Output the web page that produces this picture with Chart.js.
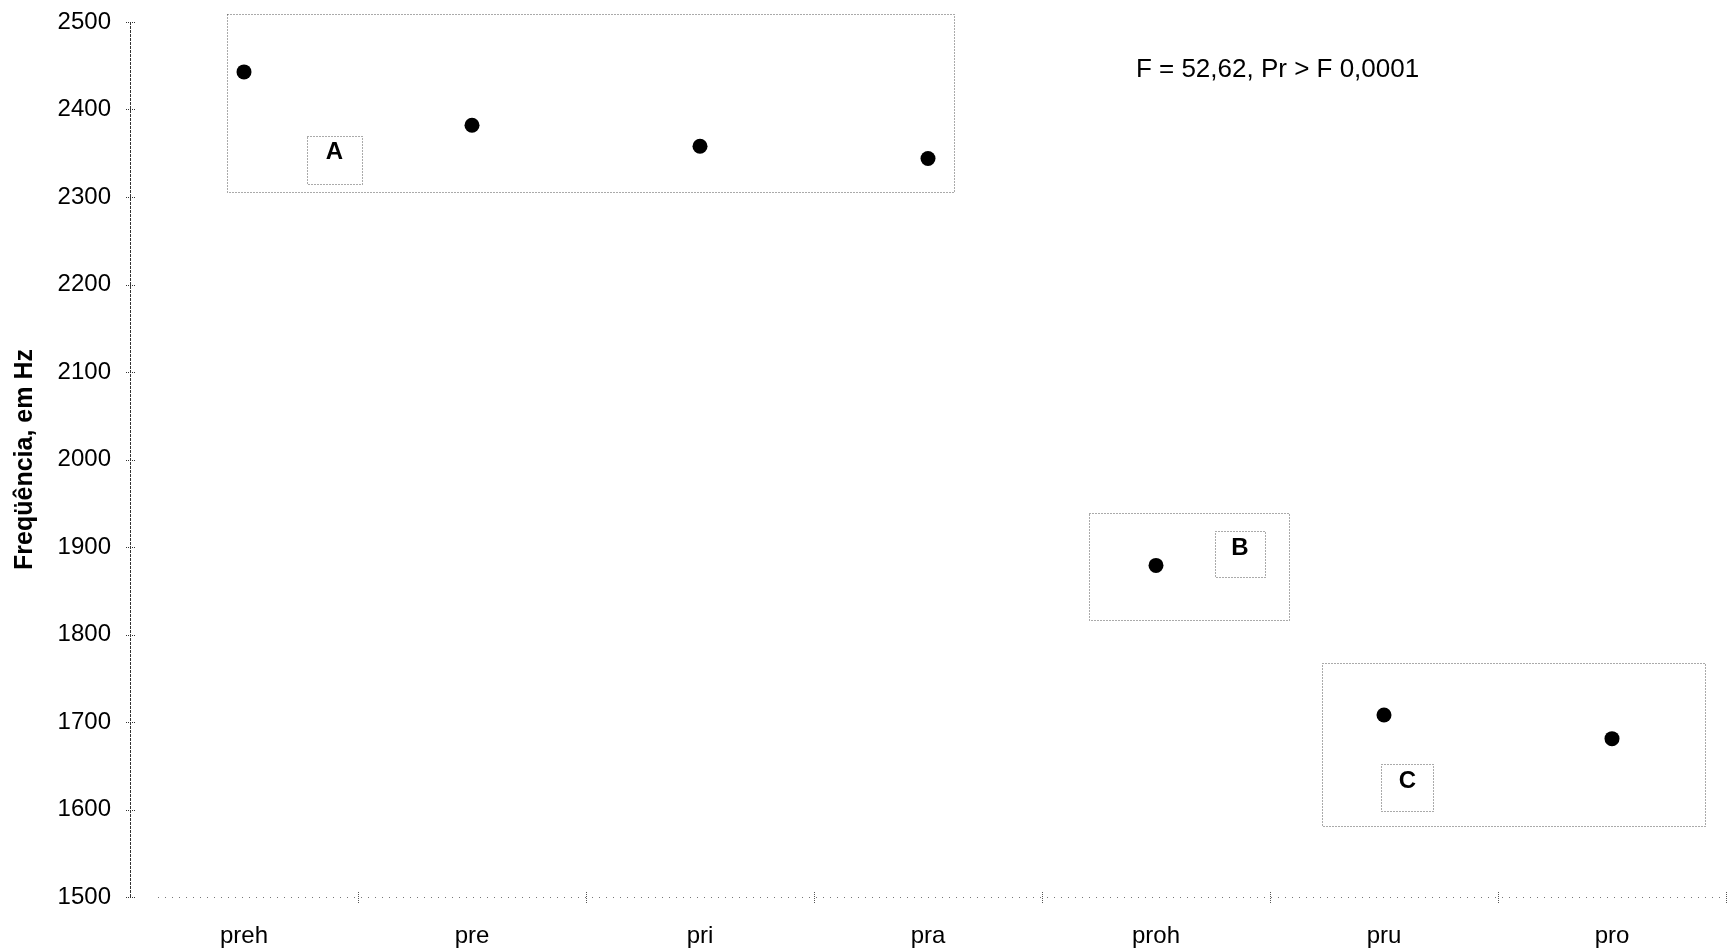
<!DOCTYPE html>
<html>
<head>
<meta charset="utf-8">
<title>Freqüência por contexto</title>
<script src="https://cdn.jsdelivr.net/npm/chart.js@4/dist/chart.umd.min.js"></script>
<style>
  html, body { margin: 0; padding: 0; background: #fff; }
  #wrap { width: 1735px; height: 952px; }
</style>
</head>
<body>
<div id="wrap"><canvas id="chart" width="1735" height="952"></canvas></div>
<script>
// Contexts on the horizontal axis
const categories = ['preh', 'pre', 'pri', 'pra', 'proh', 'pru', 'pro'];
// Mean frequency per context, in Hz
const frequencyHz = [2443, 2382, 2358, 2344, 1879, 1708, 1681];
// Vertical axis labels
const yTickLabels = ['1500', '1600', '1700', '1800', '1900', '2000', '2100', '2200', '2300', '2400', '2500'];
// Group letters from the post-hoc test
const groupLetters = ['A', 'B', 'C'];
const statText = 'F = 52,62, Pr > F 0,0001';

// Group boxes in axis units: x in category index, y in Hz
const groupBoxes = [
  { x0: -0.075, x1: 3.114, y0: 2306, y1: 2509 },
  { x0: 3.708, x1: 4.586, y0: 1817, y1: 1939 },
  { x0: 4.728, x1: 6.410, y0: 1581, y1: 1767 }
];
const letterBoxes = [
  { x0: 0.276, x1: 0.518, y0: 2315, y1: 2370 },
  { x0: 4.259, x1: 4.478, y0: 1866, y1: 1918 },
  { x0: 4.989, x1: 5.217, y0: 1598, y1: 1652 }
];
const statAt = { x: 4.533, y: 2445 };

const FONT = "'Liberation Sans', Arial, Helvetica, sans-serif";
Chart.defaults.font.family = FONT;
Chart.defaults.color = '#000';

function dashedRect(ctx, l, t, r, b) {
  ctx.beginPath();
  ctx.rect(Math.round(l) + 0.5, Math.round(t) + 0.5, Math.round(r - l), Math.round(b - t));
  ctx.stroke();
}

const frame = {
  id: 'frame',
  beforeDatasetsDraw(chart) {
    const { ctx, chartArea, scales: { x, y } } = chart;
    ctx.save();

    // y axis line with crossing ticks
    ctx.strokeStyle = '#333';
    ctx.lineWidth = 1;
    ctx.setLineDash([3, 1]);
    ctx.beginPath();
    ctx.moveTo(chartArea.left + 0.5, chartArea.top);
    ctx.lineTo(chartArea.left + 0.5, chartArea.bottom);
    ctx.stroke();
    ctx.setLineDash([1, 1]);
    yTickLabels.forEach(t => {
      const py = Math.round(y.getPixelForValue(Number(t))) + 0.5;
      ctx.beginPath();
      ctx.moveTo(chartArea.left - 4, py);
      ctx.lineTo(chartArea.left + 5, py);
      ctx.stroke();
    });

    // x axis: sparse dotted line, ticks between categories
    ctx.strokeStyle = '#777';
    ctx.setLineDash([1, 6]);
    ctx.beginPath();
    ctx.moveTo(chartArea.left + 28, chartArea.bottom + 0.5);
    ctx.lineTo(chartArea.right, chartArea.bottom + 0.5);
    ctx.stroke();
    ctx.strokeStyle = '#555';
    ctx.setLineDash([1, 1]);
    for (let i = 0; i < categories.length; i++) {
      const px = Math.round(x.getPixelForValue(i + 0.5)) + 0.5;
      ctx.beginPath();
      ctx.moveTo(px, chartArea.bottom - 5);
      ctx.lineTo(px, chartArea.bottom + 6);
      ctx.stroke();
    }

    // group boxes
    ctx.strokeStyle = '#555';
    ctx.setLineDash([1, 2]);
    groupBoxes.forEach(g => {
      dashedRect(ctx, x.getPixelForValue(g.x0), y.getPixelForValue(g.y1),
                 x.getPixelForValue(g.x1), y.getPixelForValue(g.y0));
    });

    // letter boxes and letters
    ctx.font = 'bold 24px ' + FONT;
    ctx.textAlign = 'center';
    ctx.textBaseline = 'middle';
    letterBoxes.forEach((g, i) => {
      const l = x.getPixelForValue(g.x0), r = x.getPixelForValue(g.x1);
      const t = y.getPixelForValue(g.y1), b = y.getPixelForValue(g.y0);
      ctx.strokeStyle = '#555';
      dashedRect(ctx, l, t, r, b);
      ctx.fillStyle = '#000';
      ctx.fillText(groupLetters[i], (l + r) / 2, t + 17);
    });

    // statistic
    ctx.font = '26px ' + FONT;
    ctx.fillText(statText, x.getPixelForValue(statAt.x), y.getPixelForValue(statAt.y));
    ctx.restore();
  }
};

new Chart(document.getElementById('chart'), {
  type: 'line',
  data: {
    labels: categories,
    datasets: [{
      data: frequencyHz,
      showLine: false,
      pointRadius: 7.5,
      pointHoverRadius: 7.5,
      pointBackgroundColor: '#000',
      pointBorderColor: '#000',
      pointBorderWidth: 0
    }]
  },
  options: {
    responsive: false,
    animation: false,
    devicePixelRatio: 1,
    layout: { padding: { top: 22, right: 9, bottom: 0, left: 0 } },
    plugins: { legend: { display: false }, tooltip: { enabled: false } },
    scales: {
      x: {
        type: 'category',
        offset: true,
        grid: { display: false, drawTicks: false },
        border: { display: false },
        ticks: { font: { size: 24 }, color: '#000', padding: 25, maxRotation: 0 },
        afterFit(scale) { scale.height = 55; scale.paddingLeft = 0; scale.paddingRight = 0; }
      },
      y: {
        min: 1500,
        max: 2500,
        grid: { display: false, drawTicks: false },
        border: { display: false },
        ticks: {
          stepSize: 100,
          font: { size: 24 },
          color: '#000',
          padding: 19,
          callback: (v) => yTickLabels.find(t => Number(t) === v) ?? ''
        },
        title: {
          display: true,
          text: 'Freqüência, em Hz',
          font: { size: 25, weight: 'bold' },
          color: '#000',
          padding: { top: 10, bottom: 0 }
        },
        afterFit(scale) { scale.width = 130; scale.paddingTop = 0; scale.paddingBottom = 0; }
      }
    }
  },
  plugins: [frame]
});
</script>
</body>
</html>
